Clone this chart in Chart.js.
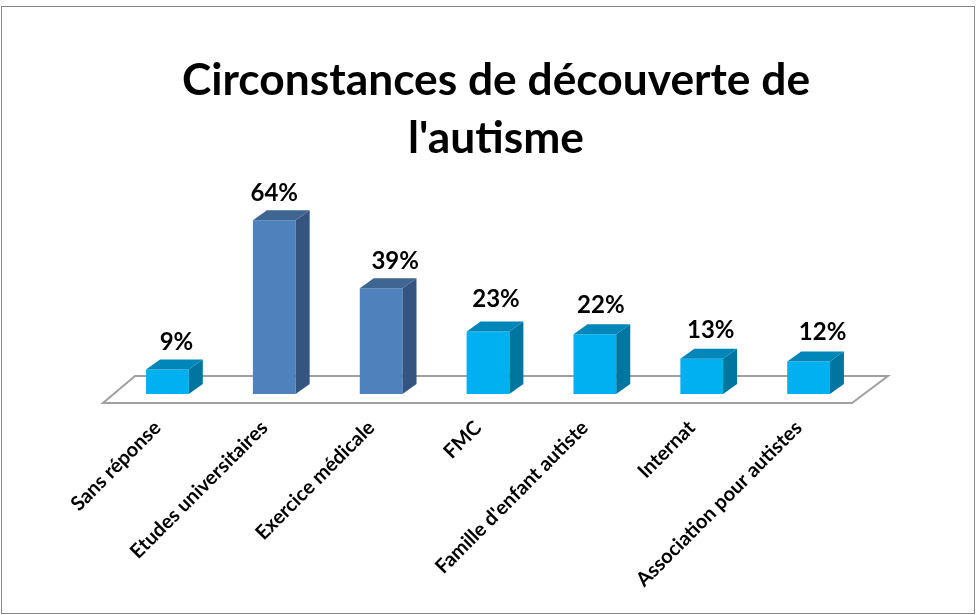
<!DOCTYPE html>
<html><head><meta charset="utf-8">
<style>html,body{margin:0;padding:0;background:#fff}canvas{display:block}</style>
<script src="https://cdn.jsdelivr.net/npm/chart.js@4"></script>
</head><body>
<div style="width:976px;height:615px"><canvas id="c" width="976" height="615"></canvas></div>
<script>
const categories = ["Sans réponse","Etudes universitaires","Exercice médicale","FMC","Famille d'enfant autiste","Internat","Association pour autistes"];
const values = [9,64,39,23,22,13,12];
const titleLines = ["Circonstances de découverte de","l'autisme"];
const frontColors = ["#00B0F0","#4F81BD","#4F81BD","#00B0F0","#00B0F0","#00B0F0","#00B0F0"];
const sideColors  = ["#00759F","#34557F","#34557F","#00759F","#00759F","#00759F","#00759F"];
const topColors   = ["#0086B8","#3F6592","#3F6592","#0086B8","#0086B8","#0086B8","#0086B8"];
const FONT = "Lato, Carlito, sans-serif";
const DX = 14, DY = 10;
const labelShiftX = [9,0,14,8,6,9,14];
const labelShiftY = [19.5,19.5,19.5,24.5,21.5,20.5,21.5];

const faces3d = {
  id: 'faces3d',
  beforeDraw(chart){
    const c = chart.ctx;
    c.save();
    c.fillStyle = '#fff'; c.fillRect(0,0,chart.width,chart.height);
    c.strokeStyle = '#868686'; c.lineWidth = 1;
    c.strokeRect(1.5,6.5,973,607);
    c.restore();
  },
  beforeDatasetsDraw(chart){
    const c = chart.ctx, a = chart.chartArea, base = chart.scales.y.getPixelForValue(0);
    c.save();
    c.strokeStyle = '#A0A0A0'; c.lineWidth = 2; c.lineJoin = 'miter';
    c.beginPath();
    c.moveTo(a.left-11, base+9); c.lineTo(a.right-10, base+9);
    c.lineTo(a.right+26, base-18); c.lineTo(a.left+21, base-18);
    c.closePath(); c.stroke();
    c.restore();
  },
  afterDatasetsDraw(chart){
    const c = chart.ctx;
    chart.getDatasetMeta(0).data.forEach((b,i)=>{
      const l = b.x-b.width/2, r = b.x+b.width/2, t = b.y, bt = b.base;
      c.fillStyle = sideColors[i];
      c.beginPath(); c.moveTo(r,t); c.lineTo(r+DX,t-DY); c.lineTo(r+DX,bt-DY); c.lineTo(r,bt); c.closePath(); c.fill();
      c.fillStyle = topColors[i];
      c.beginPath(); c.moveTo(l,t); c.lineTo(l+DX,t-DY); c.lineTo(r+DX,t-DY); c.lineTo(r,t); c.closePath(); c.fill();
      c.fillStyle = '#000';
      c.font = 'bold 24px '+FONT;
      c.textAlign = 'center'; c.textBaseline = 'alphabetic';
      c.fillText(values[i]+'%', b.x+labelShiftX[i], t-labelShiftY[i]);
    });
  }
};

new Chart(document.getElementById('c'),{
  type:'bar',
  data:{labels:categories,datasets:[{data:values,backgroundColor:frontColors,borderWidth:0,categoryPercentage:0.4,barPercentage:1}]},
  options:{
    responsive:false,animation:false,
    layout:{padding:{left:114,right:98,top:0,bottom:0}},
    plugins:{
      legend:{display:false},tooltip:{enabled:false},
      title:{display:true,text:titleLines,color:'#000',align:'center',
        font:{family:FONT,size:44.3,weight:'bold',lineHeight:1.31},
        padding:{top:52,bottom:36}}
    },
    scales:{
      y:{position:'right',min:0,max:70,grid:{display:false},border:{display:false},ticks:{display:false},
        afterFit(s){s.width=16;}},
      x:{grid:{display:false},border:{display:false},
        ticks:{color:'#000',padding:14,labelOffset:-10,autoSkip:false,minRotation:45,maxRotation:45,font:{family:FONT,size:20,weight:'bold'}},
        afterFit(s){s.height=221;}}
    }
  },
  plugins:[faces3d]
});
</script>
</body></html>
